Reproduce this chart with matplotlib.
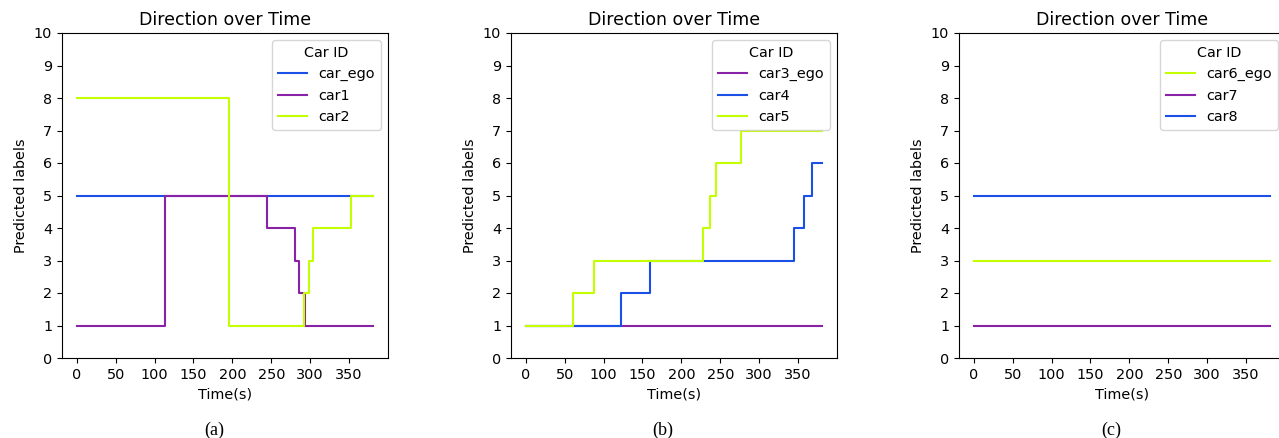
import matplotlib.pyplot as plt

# step change points (time, label) for each car, held until the next point
t_end = 381

a_ego_t = [0, t_end]
a_ego_v = [5, 5]
a_car1_t = [0, 113, 244, 280, 285, 293, t_end]
a_car1_v = [1, 5, 4, 3, 2, 1, 1]
a_car2_t = [0, 196, 292, 298, 304, 353, t_end]
a_car2_v = [8, 1, 2, 3, 4, 5, 5]

b_car3_t = [0, t_end]
b_car3_v = [1, 1]
b_car4_t = [0, 122, 160, 345, 358, 368, t_end]
b_car4_v = [1, 2, 3, 4, 5, 6, 6]
b_car5_t = [0, 61, 88, 228, 237, 245, 277, t_end]
b_car5_v = [1, 2, 3, 4, 5, 6, 7, 7]

c_car6_t = [0, t_end]
c_car6_v = [3, 3]
c_car7_t = [0, t_end]
c_car7_v = [1, 1]
c_car8_t = [0, t_end]
c_car8_v = [5, 5]

BLUE = '#1a50e6'
PURPLE = '#8a22a8'
LIME = '#c4ff00'

panels = [
    ('(a)', [('car_ego', a_ego_t, a_ego_v, BLUE),
             ('car1', a_car1_t, a_car1_v, PURPLE),
             ('car2', a_car2_t, a_car2_v, LIME)]),
    ('(b)', [('car3_ego', b_car3_t, b_car3_v, PURPLE),
             ('car4', b_car4_t, b_car4_v, BLUE),
             ('car5', b_car5_t, b_car5_v, LIME)]),
    ('(c)', [('car6_ego', c_car6_t, c_car6_v, LIME),
             ('car7', c_car7_t, c_car7_v, PURPLE),
             ('car8', c_car8_t, c_car8_v, BLUE)]),
]

plt.rcParams['font.size'] = 10.4

W, H = 1279, 438
fig = plt.figure(figsize=(W / 100, H / 100), dpi=100)

lefts = [62, 511, 959]
ax_w = 326
top, bottom = 33, 358

for left, (caption, series) in zip(lefts, panels):
    ax = fig.add_axes([left / W, 1 - bottom / H, ax_w / W, (bottom - top) / H])
    for name, t, v, color in series:
        ax.plot(t, v, drawstyle='steps-post', color=color, linewidth=1.5, label=name)
    ax.set_ylim(0, 10)
    ax.set_yticks(range(0, 11))
    ax.set_xticks(range(0, 351, 50))
    ax.set_title('Direction over Time')
    ax.set_xlabel('Time(s)')
    ax.set_ylabel('Predicted labels')
    ax.legend(title='Car ID', loc='upper right')
    fig.text((left + ax_w / 2 - 11) / W, 1 - 430 / H, caption,
             family='Liberation Serif', fontsize=13, ha='center', va='center')

fig.savefig('out.png', dpi=100)
